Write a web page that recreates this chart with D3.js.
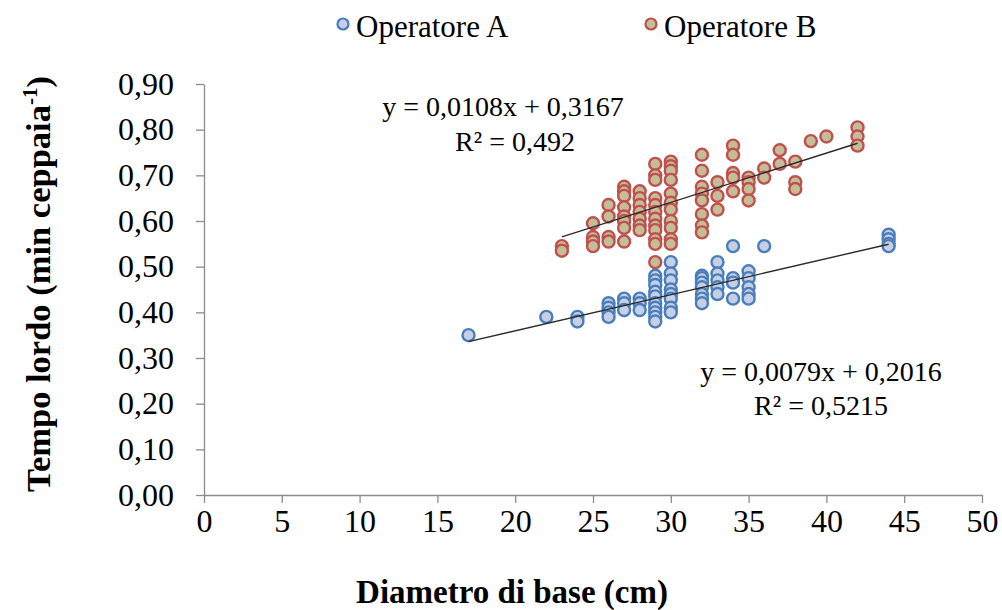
<!DOCTYPE html>
<html><head><meta charset="utf-8">
<script src="https://cdn.jsdelivr.net/npm/d3@7"></script>
<style>
html,body{margin:0;padding:0;background:#fff;}
</style></head>
<body><svg id="c" width="1002" height="610"></svg>
<script>
// ---- data ----
const seriesNames = ["Operatore A", "Operatore B"];
const xTicks = [0,5,10,15,20,25,30,35,40,45,50];
const yTicks = [0,0.1,0.2,0.3,0.4,0.5,0.6,0.7,0.8,0.9];
const aX = [17,22,24,24,26,26,26,26,27,27,27,28,28,28,
  29,29,29,29,29,29,29,29,29,29,
  30,30,30,30,30,30,30,30,
  32,32,32,32,32,32,32,
  33,33,33,33,33,
  34,34,34,34,
  35,35,35,35,35,
  36,44,44,44,44];
const aY = [0.35,0.39,0.39,0.38,0.42,0.41,0.40,0.39,0.43,0.42,0.405,0.43,0.42,0.405,
  0.48,0.47,0.46,0.445,0.435,0.42,0.41,0.40,0.39,0.38,
  0.51,0.485,0.47,0.45,0.44,0.43,0.41,0.40,
  0.48,0.475,0.465,0.455,0.44,0.43,0.42,
  0.51,0.485,0.47,0.455,0.44,
  0.545,0.475,0.465,0.43,
  0.49,0.475,0.455,0.44,0.43,
  0.545,0.57,0.56,0.55,0.545];
const bX = [23,23,25,25,25,25,26,26,26,26,
  27,27,27,27,27,27,27,27,
  28,28,28,28,28,28,28,
  29,29,29,29,29,29,29,29,29,29,29,29,
  30,30,30,30,30,30,30,30,30,30,30,
  32,32,32,32,32,32,32,32,
  33,33,33,
  34,34,34,34,34,
  35,35,35,35,
  36,36,37,37,38,38,38,39,40,42,42,42];
const bY = [0.545,0.535,0.595,0.565,0.555,0.545,0.635,0.61,0.565,0.555,
  0.675,0.665,0.655,0.63,0.61,0.60,0.585,0.555,
  0.665,0.65,0.635,0.62,0.605,0.59,0.58,
  0.725,0.70,0.69,0.65,0.635,0.62,0.605,0.59,0.58,0.56,0.55,0.51,
  0.73,0.72,0.71,0.69,0.66,0.64,0.625,0.60,0.585,0.56,0.55,
  0.745,0.71,0.675,0.66,0.645,0.615,0.59,0.575,
  0.685,0.655,0.625,
  0.765,0.745,0.705,0.695,0.665,
  0.695,0.685,0.67,0.645,
  0.715,0.695,0.755,0.725,0.73,0.685,0.67,0.775,0.785,0.805,0.785,0.765];
const trendA = {slope:0.0079, intercept:0.2016, from:17, to:44};
const trendB = {slope:0.0108, intercept:0.3167, from:23, to:42};
const eqA = ["y = 0,0079x + 0,2016", "R² = 0,5215"];
const eqB = ["y = 0,0108x + 0,3167", "R² = 0,492"];

// ---- chart ----
const FONT = "'Liberation Serif', 'Times New Roman', serif";
const svg = d3.select("#c");
const x = d3.scaleLinear().domain([0,50]).range([204,982]);
const y = d3.scaleLinear().domain([0,0.9]).range([495,84]);
const axisColor = "#8c8c8c";
const fmt = d => d3.format(".2f")(d).replace(".", ",");

const gx = svg.append("g").attr("transform",`translate(0,${y(0)})`)
  .call(d3.axisBottom(x).tickValues(xTicks).tickSize(8).tickSizeOuter(0).tickPadding(6));
const gy = svg.append("g").attr("transform",`translate(${x(0)},0)`)
  .call(d3.axisLeft(y).tickValues(yTicks).tickFormat(fmt).tickSize(8).tickSizeOuter(0).tickPadding(22));
[gx,gy].forEach(g=>{
  g.attr("font-family",null).attr("font-size",null);
  g.selectAll("path,line").attr("stroke",axisColor).attr("stroke-width",1.3);
  g.selectAll("text").style("font-family",FONT).style("font-size","32px").attr("fill","#000");
});

const colA = {fill:"#c6cfe6", stroke:"#4a7ebb"};
const colB = {fill:"#c4bd97", stroke:"#c0504d"};
const r = 6;
function drawPts(xs, ys, col){
  svg.append("g").selectAll("circle").data(xs.map((d,i)=>[d,ys[i]])).join("circle")
    .attr("cx",d=>x(d[0])).attr("cy",d=>y(d[1])).attr("r",r)
    .attr("fill",col.fill).attr("stroke",col.stroke).attr("stroke-width",2.4);
}
drawPts(aX,aY,colA);
drawPts(bX,bY,colB);

function drawTrend(t){
  svg.append("line")
    .attr("x1",x(t.from)).attr("y1",y(t.slope*t.from+t.intercept))
    .attr("x2",x(t.to)).attr("y2",y(t.slope*t.to+t.intercept))
    .attr("stroke","#2a2a2a").attr("stroke-width",1.4);
}
drawTrend(trendA);
drawTrend(trendB);

function txt(xp, yp, s, size, anchor){
  return svg.append("text").attr("x",xp).attr("y",yp).attr("text-anchor",anchor||"start")
    .style("font-family",FONT).style("font-size",size+"px").attr("fill","#000").text(s);
}
// equations
txt(503,116,eqB[0],28,"middle");
txt(515,151,eqB[1],28,"middle");
txt(821,381,eqA[0],28,"middle");
txt(821,415,eqA[1],28,"middle");

// legend
const leg = [[343,colA,seriesNames[0]],[651,colB,seriesNames[1]]];
leg.forEach(([lx,col,name])=>{
  svg.append("circle").attr("cx",lx).attr("cy",24).attr("r",5.5)
    .attr("fill",col.fill).attr("stroke",col.stroke).attr("stroke-width",2.2);
  txt(lx+13,37,name,31,"start");
});

// axis titles
txt(512,603,"Diametro di base (cm)",33,"middle").style("font-weight","bold");
const yt = svg.append("text").attr("transform","translate(50,284) rotate(-90)")
  .attr("text-anchor","middle").style("font-family",FONT).style("font-size","34.5px").style("font-weight","bold");
yt.append("tspan").text("Tempo lordo (min ceppaia");
yt.append("tspan").style("font-size","21px").attr("dy",-13).text("-1");
yt.append("tspan").attr("dy",13).text(")");
</script></body></html>
